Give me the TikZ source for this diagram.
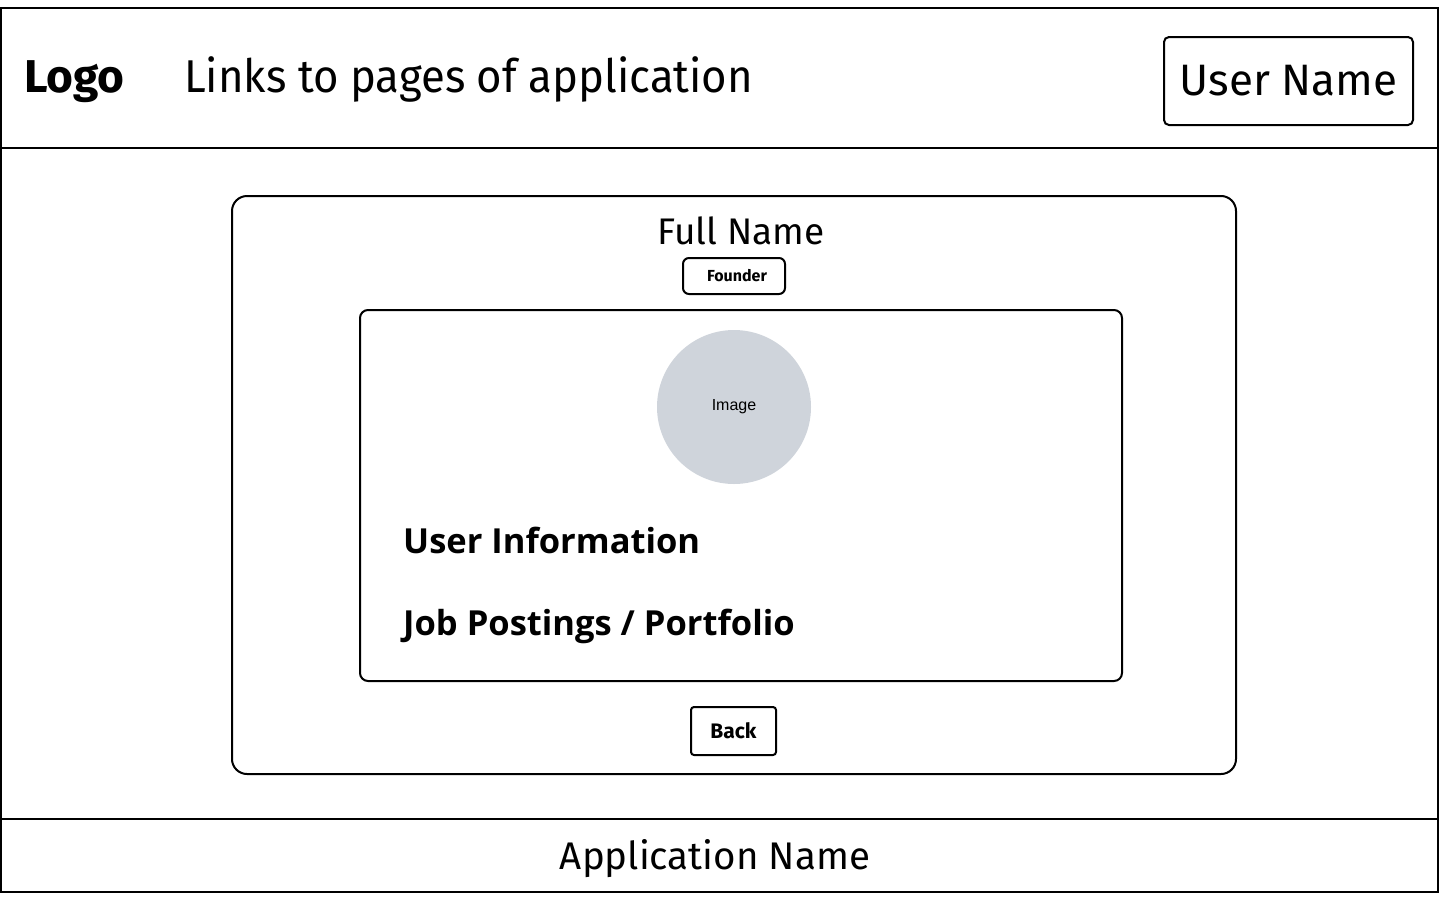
\documentclass[tikz,border=0pt]{standalone}
\usepackage{fontspec}
\setmainfont{Fira Sans}
\newfontfamily\narrowfont[FakeStretch=0.95]{Fira Sans}
\newfontfamily\widefont{Open Sans}
\newfontfamily\smallfont{Liberation Sans}
\usetikzlibrary{positioning}
\definecolor{imagegray}{HTML}{CFD4DB}

\begin{document}
\begin{tikzpicture}[x=1pt,y=-1pt,
    frame/.style={line width=2pt},
    box/.style={draw,line width=2pt,rounded corners=#1,inner sep=0pt},
    label/.style={inner sep=0pt}]
\useasboundingbox (0,0) rectangle (1440,900);

% page frame with header and footer bands
\draw[frame] (1,8) rectangle (1438,892);
\draw[frame] (1,148) -- (1438,148);
\draw[frame] (1,819) -- (1438,819);

% header
\node[label,anchor=base west] (logo) at (24,92)
    {\fontsize{46}{52}\selectfont\bfseries Logo};
\node[label,anchor=base west] (links) at (184,92)
    {\narrowfont\fontsize{46}{52}\selectfont Links to pages of application};
\node[box=5pt,minimum width=249pt,minimum height=88pt] (user) at (1288.5,81)
    {\fontsize{44}{50}\selectfont User Name};

% profile card
\node[box=15pt,minimum width=1004pt,minimum height=578pt] (card) at (734,485) {};
\node[label] (fullname) at (741,231)
    {\fontsize{37}{42}\selectfont Full Name};
\node[box=6pt,minimum width=102pt,minimum height=36pt] (role) at (734,276) {};
\node[label] (roletext) at (737,276)
    {\fontsize{16}{19}\selectfont\bfseries Founder};

% inner panel
\node[box=8pt,minimum width=762pt,minimum height=371pt] (panel) at (741,495.5) {};
\node[circle,fill=imagegray,minimum size=154pt,inner sep=0pt] (image) at (734,407)
    {\smallfont\fontsize{16}{19}\selectfont Image};
\node[label,anchor=base west] (info) at (403,553)
    {\widefont\fontsize{34.5}{40}\selectfont\bfseries User Information};
\node[label,anchor=base west] (jobs) at (403,635)
    {\widefont\fontsize{34.5}{40}\selectfont\bfseries Job Postings / Portfolio};

\node[box=3pt,minimum width=85pt,minimum height=48pt] (back) at (733.5,731)
    {\fontsize{21}{25}\selectfont\bfseries Back};

% footer
\node[label] (appname) at (715,859)
    {\fontsize{38.5}{44}\selectfont Application Name};
\end{tikzpicture}
\end{document}
